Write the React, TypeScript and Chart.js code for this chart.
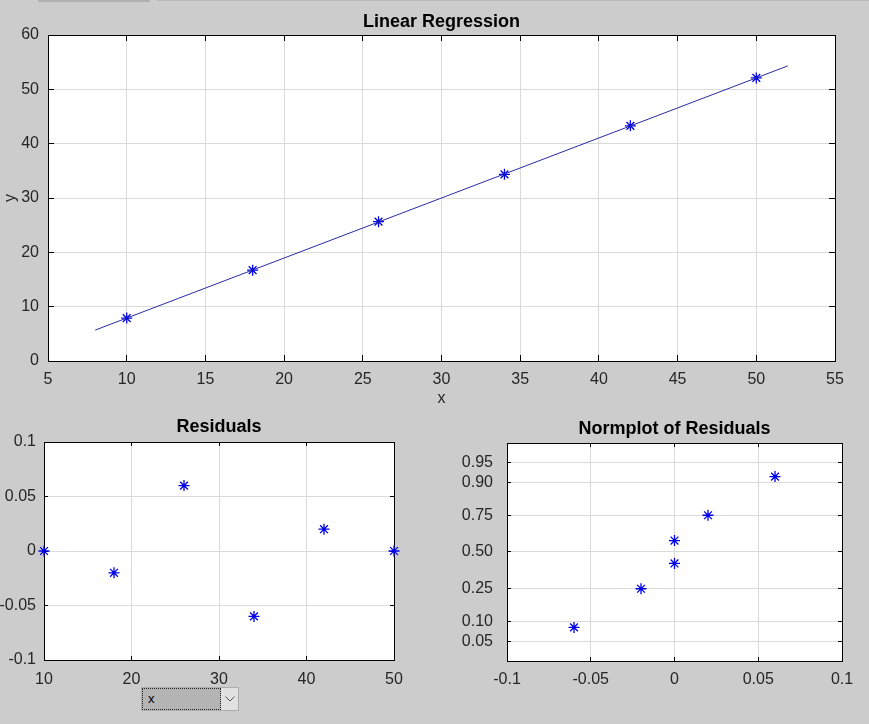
import React, { useEffect, useRef } from 'react';
import { Chart, registerables, LinearScale } from 'chart.js';

Chart.register(...registerables);

// ---------- data ----------
const xData = [10, 18, 26, 34, 42, 50];
const yData = [7.9, 16.72, 25.64, 34.36, 43.28, 52.1];
const fitX = [8, 52];
const fitY = [5.69, 54.31];
const residuals = [0, -0.02, 0.06, -0.06, 0.02, 0];
const sortedResiduals = [-0.06, -0.02, 0, 0, 0.02, 0.06];
const normProbabilities = [0.0833, 0.25, 0.4167, 0.5833, 0.75, 0.9167];
const normTickValues = [0.05, 0.1, 0.25, 0.5, 0.75, 0.9, 0.95];
const normTickLabels = ['0.05', '0.10', '0.25', '0.50', '0.75', '0.90', '0.95'];
const normMinProb = 0.02275;
const normMaxProb = 0.97725;

// ---------- styling ----------
const FONT = "'Liberation Sans', Arial, Helvetica, sans-serif";
const TICK_COLOR = '#262626';
const GRID = '#dadada';
const MARK = '#0000e6';
const LINE = '#2a2aa8';

// ---------- probit scale ----------
function probit(p: number): number {
  const a = [-3.969683028665376e1, 2.209460984245205e2, -2.759285104469687e2, 1.38357751867269e2, -3.066479806614716e1, 2.506628277459239];
  const b = [-5.447609879822406e1, 1.615858368580409e2, -1.556989798598866e2, 6.680131188771972e1, -1.328068155288572e1];
  const c = [-7.784894002430293e-3, -3.223964580411365e-1, -2.400758277161838, -2.549732539343734, 4.374664141464968, 2.938163982698783];
  const d = [7.784695709041462e-3, 3.224671290700398e-1, 2.445134137142996, 3.754408661907416];
  const pl = 0.02425;
  if (p < pl) {
    const q = Math.sqrt(-2 * Math.log(p));
    return (((((c[0] * q + c[1]) * q + c[2]) * q + c[3]) * q + c[4]) * q + c[5]) / ((((d[0] * q + d[1]) * q + d[2]) * q + d[3]) * q + 1);
  }
  if (p > 1 - pl) {
    const q = Math.sqrt(-2 * Math.log(1 - p));
    return -(((((c[0] * q + c[1]) * q + c[2]) * q + c[3]) * q + c[4]) * q + c[5]) / ((((d[0] * q + d[1]) * q + d[2]) * q + d[3]) * q + 1);
  }
  const q = p - 0.5;
  const r = q * q;
  return ((((((a[0] * r + a[1]) * r + a[2]) * r + a[3]) * r + a[4]) * r + a[5]) * q) / (((((b[0] * r + b[1]) * r + b[2]) * r + b[3]) * r + b[4]) * r + 1);
}

function normcdf(z: number): number {
  const t = 1 / (1 + 0.3275911 * Math.abs(z) / Math.SQRT2);
  const y = 1 - (((((1.061405429 * t - 1.453152027) * t) + 1.421413741) * t - 0.284496736) * t + 0.254829592) * t * Math.exp(-(z * z) / 2);
  return z >= 0 ? 0.5 * (1 + y) : 0.5 * (1 - y);
}

class ProbitScale extends (LinearScale as any) {
  static id = 'probit';
  determineDataLimits() {
    const o: any = (this as any).options;
    (this as any).min = o.min;
    (this as any).max = o.max;
  }
  buildTicks() {
    return normTickValues.map((v) => ({ value: v }));
  }
  getPixelForValue(value: number) {
    const z0 = probit((this as any).min);
    const z1 = probit((this as any).max);
    return (this as any).getPixelForDecimal((probit(value) - z0) / (z1 - z0));
  }
  getValueForPixel(pixel: number) {
    const z0 = probit((this as any).min);
    const z1 = probit((this as any).max);
    const dec = (this as any).getDecimalForPixel(pixel);
    return normcdf(z0 + dec * (z1 - z0));
  }
}
Chart.register(ProbitScale as any);

// ---------- white plot area, box and inner ticks ----------
const boxPlugin = {
  id: 'matlabBox',
  beforeDraw(chart: any) {
    const { ctx, chartArea: a } = chart;
    ctx.save();
    ctx.fillStyle = '#ffffff';
    ctx.fillRect(a.left, a.top, a.right - a.left, a.bottom - a.top);
    ctx.restore();
  },
  beforeDatasetsDraw(chart: any, _args: any, opts: any) {
    const { ctx, chartArea: a } = chart;
    const len = opts.tickLength || 5;
    const xs = chart.scales.x;
    const ys = chart.scales.y;
    ctx.save();
    ctx.strokeStyle = '#000';
    ctx.lineWidth = 1;
    ctx.beginPath();
    xs.ticks.forEach((_t: any, i: number) => {
      const px = Math.round(xs.getPixelForTick(i) - 0.5) + 0.5;
      ctx.moveTo(px, a.bottom);
      ctx.lineTo(px, a.bottom - len);
      ctx.moveTo(px, a.top);
      ctx.lineTo(px, a.top + len);
    });
    ys.ticks.forEach((_t: any, i: number) => {
      const py = Math.round(ys.getPixelForTick(i) - 0.5) + 0.5;
      ctx.moveTo(a.left, py);
      ctx.lineTo(a.left + len, py);
      ctx.moveTo(a.right, py);
      ctx.lineTo(a.right - len, py);
    });
    ctx.stroke();
    ctx.strokeRect(a.left + 0.5, a.top + 0.5, a.right - a.left, a.bottom - a.top);
    ctx.restore();
  },
};

const fmt = (v: any) => {
  const n = Number(Number(v).toFixed(2));
  return n === 0 ? '0' : String(n);
};

function xAxis(min: number, max: number, step: number, height: number, padding: number, title?: string) {
  return {
    type: 'linear',
    position: 'bottom',
    min,
    max,
    ticks: {
      stepSize: step,
      autoSkip: false,
      maxRotation: 0,
      padding,
      color: TICK_COLOR,
      font: { family: FONT, size: 16 },
      callback: fmt,
    },
    grid: { color: GRID, drawTicks: false, lineWidth: 1 },
    border: { display: false },
    title: title
      ? { display: true, text: title, color: TICK_COLOR, font: { family: FONT, size: 16 }, padding: { top: 0, bottom: 0 } }
      : { display: false },
    afterFit: (s: any) => {
      s.height = height;
      s.paddingLeft = 0;
      s.paddingRight = 0;
    },
  };
}

function yAxis(extra: any, width: number, padding: number, title?: string) {
  return {
    position: 'left',
    ...extra,
    ticks: {
      autoSkip: false,
      padding,
      color: TICK_COLOR,
      font: { family: FONT, size: 16 },
      ...(extra.ticks || {}),
    },
    grid: { color: GRID, drawTicks: false, lineWidth: 1 },
    border: { display: false },
    title: title
      ? { display: true, text: title, color: TICK_COLOR, font: { family: FONT, size: 16 }, padding: { top: 0.5, bottom: 0 } }
      : { display: false },
    afterFit: (s: any) => {
      s.width = width;
      s.paddingTop = 0;
      s.paddingBottom = 0;
    },
  };
}

function titleOpts(text: string, top: number, bottom: number) {
  return {
    display: true,
    text,
    fullSize: false,
    color: '#000',
    font: { family: FONT, size: 18, weight: 'bold' },
    padding: { top, bottom },
  };
}

const markerDataset = (xs: number[], ys: number[]) => ({
  data: xs.map((x, i) => ({ x, y: ys[i] })),
  showLine: false,
  pointStyle: 'star',
  pointRadius: 5.5,
  pointHoverRadius: 5.5,
  pointBorderWidth: 1.3,
  borderColor: MARK,
  backgroundColor: MARK,
  clip: 10,
});

function buildTop() {
  return {
    type: 'scatter',
    data: {
      datasets: [
        {
          data: fitX.map((x, i) => ({ x, y: fitY[i] })),
          showLine: true,
          pointRadius: 0,
          borderColor: LINE,
          borderWidth: 1,
        },
        markerDataset(xData, yData),
      ],
    },
    options: {
      responsive: false,
      animation: false,
      devicePixelRatio: 1,
      events: [],
      layout: { padding: { left: 0, right: 34, top: 0, bottom: 2 } },
      plugins: {
        legend: { display: false },
        tooltip: { enabled: false },
        title: titleOpts('Linear Regression', 11.5, 1.9),
        matlabBox: { tickLength: 6 },
      },
      scales: {
        x: xAxis(5, 55, 5, 47, 9, 'x'),
        y: yAxis({ type: 'linear', min: 0, max: 60, ticks: { stepSize: 10, callback: fmt } }, 48, 9, 'y'),
      },
    },
    plugins: [boxPlugin],
  };
}

function buildResiduals() {
  return {
    type: 'scatter',
    data: { datasets: [markerDataset(xData, residuals)] },
    options: {
      responsive: false,
      animation: false,
      devicePixelRatio: 1,
      events: [],
      layout: { padding: { left: 0, right: 46, top: 0, bottom: 24 } },
      plugins: {
        legend: { display: false },
        tooltip: { enabled: false },
        title: titleOpts('Residuals', 16.5, 3.9),
        matlabBox: { tickLength: 4 },
      },
      scales: {
        x: xAxis(10, 50, 10, 40, 9.5),
        y: yAxis({ type: 'linear', min: -0.1, max: 0.1, ticks: { stepSize: 0.05, callback: fmt } }, 44, 8),
      },
    },
    plugins: [boxPlugin],
  };
}

function buildNorm() {
  return {
    type: 'scatter',
    data: { datasets: [markerDataset(sortedResiduals, normProbabilities)] },
    options: {
      responsive: false,
      animation: false,
      devicePixelRatio: 1,
      events: [],
      layout: { padding: { left: 0, right: 27, top: 0, bottom: 23 } },
      plugins: {
        legend: { display: false },
        tooltip: { enabled: false },
        title: titleOpts('Normplot of Residuals', 18.5, 2.9),
        matlabBox: { tickLength: 4 },
      },
      scales: {
        x: xAxis(-0.1, 0.1, 0.05, 40, 9.4),
        y: yAxis(
          {
            type: 'probit',
            min: normMinProb,
            max: normMaxProb,
            ticks: {
              callback: (v: any) => {
                const idx = normTickValues.findIndex((t) => Math.abs(t - Number(v)) < 1e-9);
                return idx >= 0 ? normTickLabels[idx] : '';
              },
            },
          },
          67,
          14
        ),
      },
    },
    plugins: [boxPlugin],
  };
}

function ChartBox(props: { left: number; top: number; width: number; height: number; build: () => any }) {
  const ref = useRef<HTMLCanvasElement>(null);
  useEffect(() => {
    const chart = new Chart(ref.current as HTMLCanvasElement, props.build());
    return () => chart.destroy();
  }, []);
  return (
    <canvas
      ref={ref}
      width={props.width}
      height={props.height}
      style={{ position: 'absolute', left: props.left, top: props.top, width: props.width, height: props.height }}
    />
  );
}

export default function App() {
  return (
    <div
      style={{
        position: 'absolute',
        left: 0,
        top: 0,
        width: 869,
        height: 724,
        background: '#cccccc',
        overflow: 'hidden',
      }}
    >
      <div style={{ position: 'absolute', left: 38, top: 0, width: 112, height: 2, background: '#b2b2b2' }} />
      <div style={{ position: 'absolute', left: 157, top: 0, width: 712, height: 1, background: '#b8b8b8' }} />
      <ChartBox left={0} top={0} width={869} height={410} build={buildTop} />
      <ChartBox left={0} top={400} width={440} height={324} build={buildResiduals} />
      <ChartBox left={440} top={400} width={429} height={324} build={buildNorm} />
      <div
        style={{
          position: 'absolute',
          left: 141,
          top: 687,
          width: 98,
          height: 24,
          boxSizing: 'border-box',
          border: '1px solid #adadad',
          background: '#e1e1e1',
          zIndex: 5,
        }}
      >
        <div
          style={{
            position: 'absolute',
            left: 0,
            top: 0,
            width: 79,
            height: 22,
            boxSizing: 'border-box',
            border: '1px dotted #222',
            background: '#b4b4b4',
            fontFamily: FONT,
            fontSize: 13,
            lineHeight: '20px',
            paddingLeft: 5,
            color: '#000',
          }}
        >
          x
        </div>
        <svg style={{ position: 'absolute', left: 83, top: 8 }} width={10} height={6}>
          <polyline points="0.5,0.5 5,5 9.5,0.5" fill="none" stroke="#555" strokeWidth={1} />
        </svg>
      </div>
    </div>
  );
}
